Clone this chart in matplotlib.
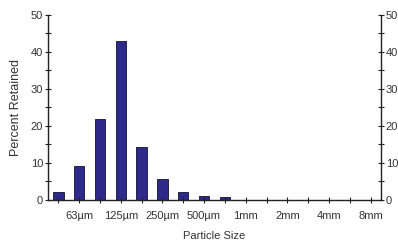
import matplotlib.pyplot as plt
from matplotlib.ticker import MultipleLocator

# percent retained per sieve slot (16 slots, labels on every other one)
percent = [2.1, 9.3, 21.8, 42.9, 14.3, 5.8, 2.1, 1.0, 0.8, 0, 0, 0, 0, 0, 0, 0]
tick_labels = ["63\u00b5m", "125\u00b5m", "250\u00b5m", "500\u00b5m", "1mm", "2mm", "4mm", "8mm"]

plt.rcParams["font.family"] = ["Liberation Sans", "DejaVu Sans"]
plt.rcParams["font.size"] = 8

fig = plt.figure(figsize=(3.98, 2.45), dpi=100)
ax = fig.add_axes([0.1206, 0.1837, 0.8366, 0.7551])

pos = list(range(len(percent)))
ax.bar(pos, percent, width=0.5, color="#2e2a8c", edgecolor="#111133", linewidth=0.6)

ax.set_xlim(-0.5, len(percent) - 0.5)
ax.set_ylim(0, 50)
ax.set_xticks(pos)
ax.set_xticklabels(["" if i % 2 == 0 else tick_labels[i // 2] for i in pos])
ax.yaxis.set_major_locator(MultipleLocator(10))
ax.yaxis.set_minor_locator(MultipleLocator(5))

ax.spines["top"].set_visible(False)
for s in ["left", "right", "bottom"]:
    ax.spines[s].set_linewidth(1.0)
    ax.spines[s].set_color("#222222")

ax.tick_params(axis="both", which="both", direction="inout", colors="#222222", labelcolor="#333333")
ax.tick_params(axis="y", which="major", length=5, width=0.8, right=True, labelright=True, pad=1)
ax.tick_params(axis="y", which="minor", length=4, width=0.8, right=True)
ax.tick_params(axis="x", which="major", length=4, width=0.8, pad=6)

ax.set_xlabel("Particle Size", color="#333333", labelpad=7)
ax.set_ylabel("Percent Retained", color="#333333", fontsize=9, labelpad=6)

fig.savefig("out.png", dpi=100)
